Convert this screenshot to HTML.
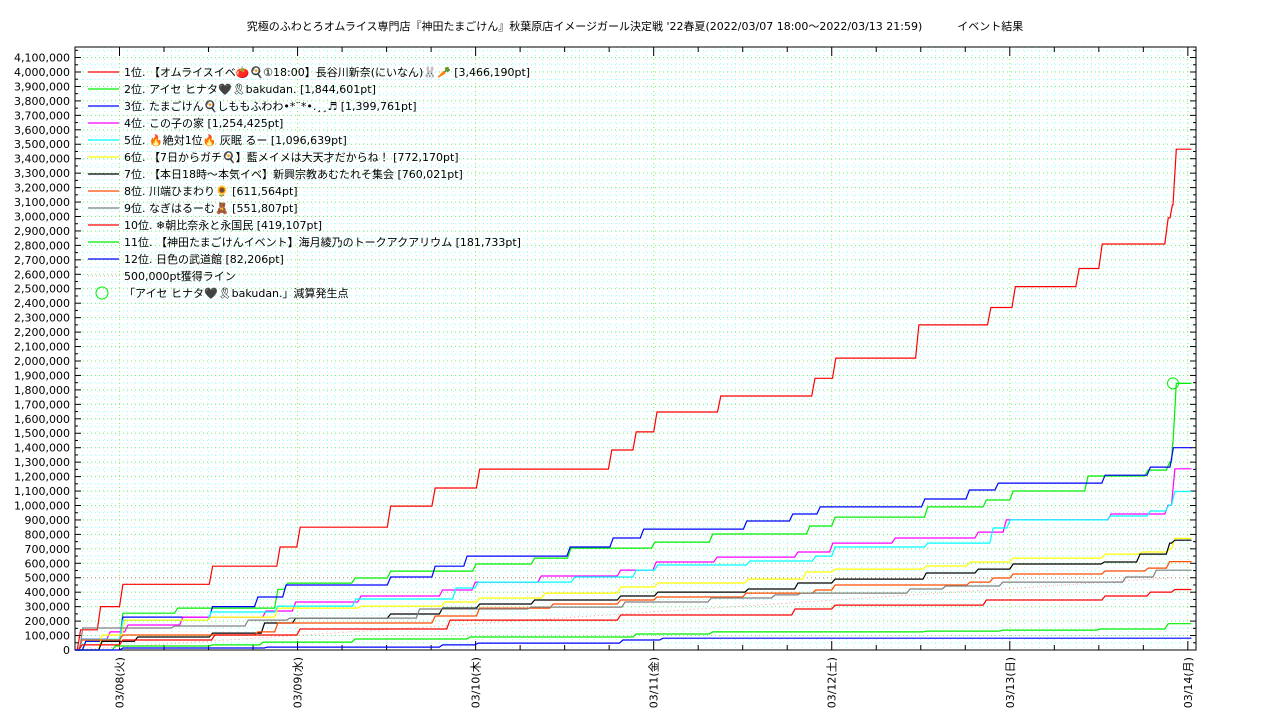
<!DOCTYPE html>
<html><head><meta charset="utf-8">
<style>
html,body{margin:0;padding:0;background:#fff;}
svg{display:block;font-family:"DejaVu Sans","Noto Sans CJK JP",sans-serif;}
</style></head>
<body>
<svg id="chart" width="1280" height="720" viewBox="0 0 1280 720" xmlns="http://www.w3.org/2000/svg">
<text x="635" y="30" text-anchor="middle" font-size="11" fill="#000" xml:space="preserve">究極のふわとろオムライス専門店『神田たまごけん』秋葉原店イメージガール決定戦 '22春夏(2022/03/07 18:00～2022/03/13 21:59)          イベント結果</text>
<g id="grid"></g>
<g id="axes"></g>
<g id="series"></g>
<g id="legend"></g>
</svg>
<script>
// ---- data (hours since 2022/03/07 18:00, points in thousands) ----
const names = [
 " 1位. 【オムライスイベ🍅🍳①18:00】長谷川新奈(にいなん)🐰🥕 [3,466,190pt]",
 " 2位. アイセ ヒナタ🖤🎗bakudan. [1,844,601pt]",
 " 3位. たまごけん🍳しももふわわ•*¨*•.¸¸♬ [1,399,761pt]",
 " 4位. この子の家 [1,254,425pt]",
 " 5位. 🔥絶対1位🔥 灰眠 るー [1,096,639pt]",
 " 6位. 【7日からガチ🍳】藍メイメは大天才だからね！ [772,170pt]",
 " 7位. 【本日18時〜本気イベ】新興宗教あむたれそ集会 [760,021pt]",
 " 8位. 川端ひまわり🌻 [611,564pt]",
 " 9位. なぎはるーむ🧸 [551,807pt]",
 "10位. ❄朝比奈永と永国民 [419,107pt]",
 "11位. 【神田たまごけんイベント】海月綾乃のトークアクアリウム [181,733pt]",
 "12位. 日色の武道館 [82,206pt]"
];
const colors = ["#ff0000","#00ee00","#0000ff","#ff00ff","#00ffff","#ffff00","#000000","#ff4a00","#808080","#ff0000","#00ee00","#0000ff"];
const t1 = [0,0.3,3.0,6.0,18.1,27.2,29.9,42.1,48.1,54.1,71.9,75.2,78.0,86.6,99.3,102.1,113.3,123.0,126.3,134.9,138.0,146.9,147.6,148.0];
const v1 = [0,140,300,455,580,713,850,996,1121,1252,1384,1509,1647,1758,1880,2020,2250,2370,2515,2640,2810,2990,3080,3466];
const t2 = [0,1,6.0,13.4,26.9,28.2,37.3,42.1,53.6,61.5,66.4,77.7,85.5,98.6,102.0,114.5,122.4,126.0,136.1,144.2,147.1,147.8,148.0];
const v2 = [0,60,255,290,420,463,498,546,595,636,705,747,803,858,920,990,1038,1100,1204,1245,1300,1432,1845];
const t3 = [0,1,6.0,18.1,24.2,28.0,42.1,48.1,52.4,66.3,72.1,76.2,90.1,96.3,100.0,114.1,120.1,124.0,138.4,144.5,147.6];
const v3 = [0,60,228,300,367,450,505,580,650,713,775,837,893,941,990,1045,1107,1155,1210,1266,1400];
const t4 = [0,0.5,4.3,6.7,14.1,25.3,29.3,38.1,49.1,53.5,62.4,73.1,77.9,86.1,97.0,101.7,110.1,121.3,125.1,139.2,146.9,147.8];
const v4 = [0,76,125,173,228,270,332,374,415,470,512,553,609,643,678,740,775,816,900,941,1003,1254];
const t5 = [0,0.5,6.0,17.9,26.9,37.4,50.9,53.9,66.9,75.2,78.1,90.5,99.4,102.0,114.5,123.3,125.6,139.1,144.5,147.0,147.8];
const v5 = [0,75,207,263,304,353,429,470,505,553,588,616,650,713,740,844,900,927,962,1003,1097];
const t6 = [0,3.2,6.3,17.9,26.9,38.1,49.4,54.1,62.9,73.1,78.1,90.3,98.1,102.0,114.3,120.2,126.0,138.4,143.4,147.1,147.8];
const v6 = [0,104,207,228,290,304,332,360,394,436,464,491,540,560,581,609,636,664,678,700,772];
const t7 = [0,3.2,8.0,18.1,25.1,29.3,42.1,49.1,54.1,61.5,73.1,78.1,90.3,97.0,102.0,114.3,121.3,126.0,138.3,143.1,147.1,147.8];
const v7 = [0,60,90,117,187,221,249,290,318,346,374,401,422,464,491,533,560,595,609,664,740,760];
const t8 = [0,0.5,6.0,24.2,26.9,48.1,54.1,64.0,73.1,78.0,90.0,99.4,102.0,120.2,123.3,126.0,138.4,144.2,147.1];
const v8 = [0,69,104,125,187,235,290,318,346,367,394,415,450,470,498,526,547,567,612];
const t9 = [0,0.6,13.0,22.9,28.5,46.0,61.0,73.7,85.3,93.9,97.4,112.1,116.9,124.6,141.2,145.3];
const v9 = [0,152,166,207,221,284,297,332,360,381,394,422,443,470,505,552];
const t10 = [0,0.5,6.0,18.4,29.9,50.1,73.1,96.6,102.0,122.4,138.4,144.5,147.8];
const v10 = [0,35,69,104,145,207,242,284,311,346,374,401,419];
const t11 = [0,5,18.1,24.9,37.3,52.8,75.2,85.5,114.3,124.6,137.7,146.9];
const v11 = [0,28,35,55,76,90,111,125,131,138,145,182];
const t12 = [0,6.0,25.5,49.1,53.9,73.4,78.8];
const v12 = [0,14,20,35,48,69,82];
const paceT = [0,148];
const paceV = [0,500];
const markT = [148.0];
const markV = [1845];
const yTickLabels = ["0","100,000","200,000","300,000","400,000","500,000","600,000","700,000","800,000","900,000","1,000,000","1,100,000","1,200,000","1,300,000","1,400,000","1,500,000","1,600,000","1,700,000","1,800,000","1,900,000","2,000,000","2,100,000","2,200,000","2,300,000","2,400,000","2,500,000","2,600,000","2,700,000","2,800,000","2,900,000","3,000,000","3,100,000","3,200,000","3,300,000","3,400,000","3,500,000","3,600,000","3,700,000","3,800,000","3,900,000","4,000,000","4,100,000"];
const xDayHours = [6,30,54,78,102,126,150];
const xDayLabels = ["03/08(火)","03/09(水)","03/10(木)","03/11(金)","03/12(土)","03/13(日)","03/14(月)"];

const allT=[t1,t2,t3,t4,t5,t6,t7,t8,t9,t10,t11,t12];
const allV=[v1,v2,v3,v4,v5,v6,v7,v8,v9,v10,v11,v12];

// ---- axes ----
const X0=75,X1=1196,Y0=650,Y1=47,TMAX=151.1,VMAX=4173,TEND=150.5;
function xs(t){return X0+t/TMAX*(X1-X0);}
function ys(v){return Y0-v/VMAX*(Y0-Y1);}
const NS="http://www.w3.org/2000/svg";
function mk(tag,attrs,parent){const e=document.createElementNS(NS,tag);for(const k in attrs)e.setAttribute(k,attrs[k]);parent.appendChild(e);return e;}
const grid=document.getElementById('grid'),axes=document.getElementById('axes'),ser=document.getElementById('series'),leg=document.getElementById('legend');

// grid
for(let h=1;h<TMAX;h++){
  const x=xs(h);
  const g=mk('line',{x1:x,x2:x,y1:Y1,y2:Y0,stroke:(h%24===6)?'#66ff66':'#99ffff','stroke-width':1,'stroke-dasharray':'1,3'},grid);
  
  
}
for(let v=50;v<VMAX;v+=50){
  const y=ys(v);
  const major=(v%100===0);
  const col=(v===500)?'#a09060':(major?'#77ee77':'#99ffff');
  const g=mk('line',{x1:X0,x2:X1,y1:y,y2:y,stroke:col,'stroke-width':1,'stroke-dasharray':'1,3'},grid);
  
  
}
// frame
const fr=mk('rect',{x:X0,y:Y1,width:X1-X0,height:Y0-Y1,fill:'none',stroke:'#000','stroke-width':1},axes);


// y ticks
for(let v=0;v<VMAX;v+=50){
  const y=ys(v);const L=(v%100===0)?6:3;
  const a=mk('line',{x1:X0,x2:X0+L,y1:y,y2:y,stroke:'#000'},axes);
  
  
  const b=mk('line',{x1:X1,x2:X1-L,y1:y,y2:y,stroke:'#000'},axes);
  
  
}
yTickLabels.forEach((s,i)=>{
  const t=mk('text',{x:70,y:ys(i*100)+4,'text-anchor':'end','font-size':11,fill:'#000'},axes);
  t.textContent=s;
  
  
});
// x ticks
for(let h=0;h<TMAX;h+=6){
  const x=xs(h);const L=(h%24===6)?9:5;
  const a=mk('line',{x1:x,x2:x,y1:Y0,y2:Y0-L,stroke:'#000'},axes);
  
  
  const b=mk('line',{x1:x,x2:x,y1:Y1,y2:Y1+L,stroke:'#000'},axes);
  
  
}
xDayHours.forEach((h,i)=>{
  const x=xs(h)+4;
  const t=mk('text',{x:x,y:657,'text-anchor':'end','font-size':11,fill:'#000',transform:`rotate(-90 ${x} 657)`},axes);
  t.textContent=xDayLabels[i];
  
  
});

// ---- series ----
const RAMP=0.45;
function stepPath(T,V){
  let d=`M${xs(T[0]).toFixed(1)},${ys(V[0]).toFixed(1)}`;
  for(let i=1;i<T.length;i++){
    const gap=(i+1<T.length)?(T[i+1]-T[i]):1;
    const r=Math.min(RAMP,gap*0.8);
    d+=` L${xs(T[i]).toFixed(1)},${ys(V[i-1]).toFixed(1)} L${xs(T[i]+r).toFixed(1)},${ys(V[i]).toFixed(1)}`;
  }
  d+=` L${xs(TEND).toFixed(1)},${ys(V[V.length-1]).toFixed(1)}`;
  return d;
}
const pace=mk('line',{x1:xs(paceT[0]),y1:ys(paceV[0]),x2:xs(paceT[1]),y2:ys(paceV[1]),stroke:'#ff9999','stroke-width':1,'stroke-dasharray':'1,3'},ser);


allT.forEach((T,i)=>{
  const p=mk('path',{d:stepPath(T,allV[i]),fill:'none',stroke:colors[i],'stroke-width':1.2},ser);
  
  
});
markT.forEach((t,i)=>{
  const c=mk('circle',{cx:xs(t),cy:ys(markV[i]),r:5.5,fill:'none',stroke:'#00ee00','stroke-width':1},ser);
  
  
});

// ---- legend ----
names.forEach((n,i)=>{
  const y=72+i*17;
  const l=mk('line',{x1:88,x2:119,y1:y,y2:y,stroke:colors[i],'stroke-width':1.2},leg);
  
  
  const t=mk('text',{x:124,y:y+4,'font-size':11,fill:'#000'},leg);
  t.setAttribute('xml:space','preserve');
  t.textContent=n;
  
  
});
{
  const y=72+12*17;
  const l=mk('line',{x1:88,x2:119,y1:y,y2:y,stroke:'#ff9999','stroke-dasharray':'1,3'},leg);
  
  
  const t=mk('text',{x:124,y:y+4,'font-size':11,fill:'#000'},leg);
  t.textContent='500,000pt獲得ライン';
  
  
  const y2=72+13*17;
  const c=mk('circle',{cx:102,cy:y2,r:6,fill:'none',stroke:'#00ee00'},leg);
  
  
  const t2=mk('text',{x:124,y:y2+4,'font-size':11,fill:'#000'},leg);
  t2.setAttribute('xml:space','preserve');
  t2.textContent=' 「アイセ ヒナタ🖤🎗bakudan.」減算発生点';
  
  
}
</script>
</body></html>
